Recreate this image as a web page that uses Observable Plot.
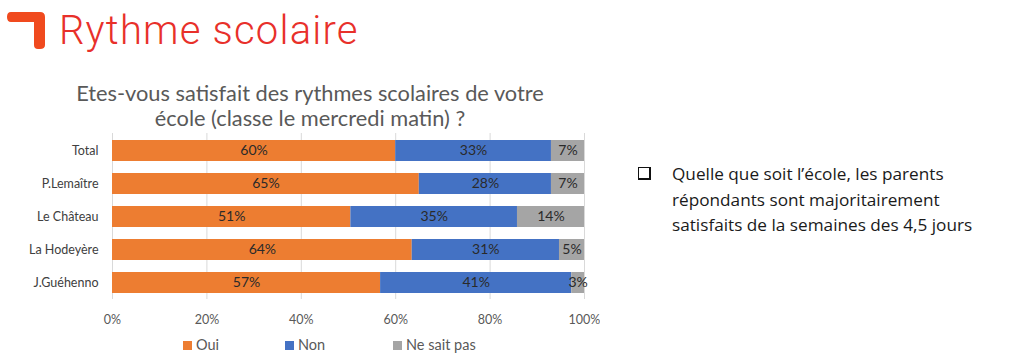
<!DOCTYPE html>
<html>
<head>
<meta charset="utf-8">
<script src="https://cdn.jsdelivr.net/npm/d3@7"></script>
<script src="https://cdn.jsdelivr.net/npm/@observablehq/plot@0.6"></script>
<style>
  html, body { margin: 0; padding: 0; background: #fff; }
  #page { position: relative; width: 1024px; height: 360px; overflow: hidden; background: #fff; font-family: Lato, "Open Sans", sans-serif; }
  #logo { position: absolute; left: 0; top: 0; }
  #title { position: absolute; left: 59px; top: 7px; font-family: Roboto, sans-serif; font-weight: 300; font-size: 40px; line-height: 48px; color: #e8302a; letter-spacing: 1.2px; white-space: nowrap; }
  #ctitle { position: absolute; left: 40px; width: 540px; top: 80px; text-align: center; font-family: Lato, sans-serif; font-size: 21.8px; line-height: 25px; color: #595959; }
  #chart { position: absolute; left: 0; top: 128px; }
  #legend { position: absolute; top: 336px; left: 0; width: 600px; font-family: Lato, sans-serif; font-size: 14.5px; color: #595959; }
  .li { position: absolute; top: 0; white-space: nowrap; }
  .sw { display: inline-block; width: 9px; height: 9px; margin-right: 4px; vertical-align: 0px; }
  #note { position: absolute; left: 638px; top: 161px; font-family: "Open Sans", sans-serif; font-size: 17.2px; line-height: 25.5px; color: #1a1a1a; }
  #note .box { position: absolute; left: 0; top: 6px; width: 10px; height: 10px; border: 1.5px solid #111; border-right-width: 2.5px; border-bottom-width: 2.5px; }
  #note .txt { position: absolute; left: 34px; top: 0; white-space: nowrap; }
</style>
</head>
<body>
<div id="page">
  <svg id="logo" width="50" height="52">
    <path d="M11 12 H40 Q45 12 45 17 V45 Q45 49 40 49 H38 Q34 49 34 45 V22 H11 Q7 22 7 17 Q7 12 11 12 Z" fill="#f04a1e"/>
  </svg>
  <div id="title">Rythme scolaire</div>
  <div id="ctitle">Etes-vous satisfait des rythmes scolaires de votre<br>école (classe le mercredi matin) ?</div>
  <div id="chart"></div>
  <div id="legend"></div>
  <div id="note"><div class="box"></div><div class="txt">Quelle que soit l’école, les parents<br>répondants sont majoritairement<br>satisfaits de la semaines des 4,5 jours</div></div>
</div>
<script>
const schools = ["Total", "P.Lemaître", "Le Château", "La Hodeyère", "J.Guéhenno"];
const answers = ["Oui", "Non", "Ne sait pas"];
const oui = [60, 65, 50.5, 63.5, 56.8];
const non = [33, 28, 35.3, 31.2, 40.5];
const nsp = [7, 7, 14.2, 5.3, 2.7];
const colors = ["#ed7d31", "#4472c4", "#a5a5a5"];
const xTicks = [0, 20, 40, 60, 80, 100];

const series = [oui, non, nsp];
const rows = [];
schools.forEach((s, i) => {
  answers.forEach((a, j) => rows.push({school: s, answer: a, value: series[j][i]}));
});

const chart = Plot.plot({
  width: 600,
  height: 207,
  marginLeft: 112,
  marginRight: 16,
  marginTop: 5,
  marginBottom: 36,
  style: {fontFamily: "Lato, sans-serif", background: "transparent"},
  x: {domain: [0, 100], ticks: xTicks, tickFormat: d => d + "%", tickSize: 0, tickPadding: 16, label: null},
  y: {domain: schools, paddingInner: 0.37, paddingOuter: 0.185, tickSize: 0, tickPadding: 14, label: null},
  color: {domain: answers, range: colors},
  marks: [
    Plot.ruleX(xTicks, {stroke: "#d9d9d9", strokeWidth: 1}),
    Plot.barX(rows, Plot.stackX({x: "value", y: "school", z: "answer", fill: "answer", order: answers})),
    Plot.text(rows, Plot.stackX({x: "value", y: "school", z: "answer", order: answers, text: d => Math.round(d.value) + "%", fill: "#2a2a2a", fontSize: 14}))
  ]
});
d3.select(chart).selectAll("[aria-label='x-axis tick label']").attr("fill", "#595959").style("font-size", "12.5px");
d3.select(chart).selectAll("[aria-label='y-axis tick label']").attr("fill", "#404040").style("font-size", "12.5px");
document.getElementById("chart").appendChild(chart);

const legendX = [183, 285, 393];
const lg = document.getElementById("legend");
answers.forEach((a, i) => {
  const el = document.createElement("span");
  el.className = "li";
  el.style.left = legendX[i] + "px";
  el.innerHTML = `<span class="sw" style="background:${colors[i]}"></span>${a}`;
  lg.appendChild(el);
});
</script>
</body>
</html>
